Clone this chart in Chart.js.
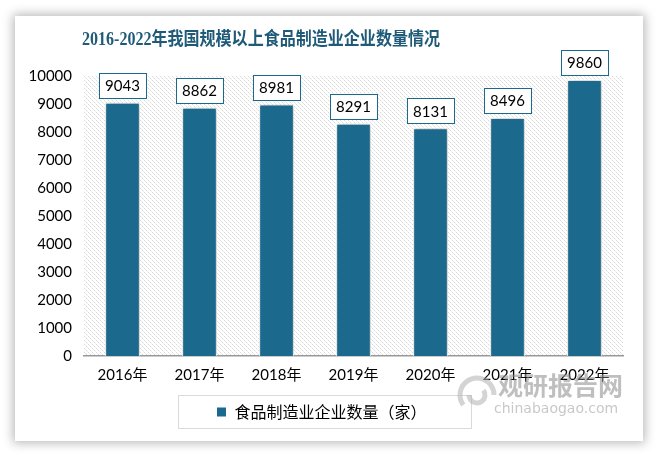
<!DOCTYPE html>
<html>
<head>
<meta charset="utf-8">
<script src="https://cdn.jsdelivr.net/npm/chart.js@4.4.0/dist/chart.umd.min.js"></script>
<style>
  html, body { margin:0; padding:0; background:#ffffff; width:659px; height:456px; overflow:hidden; }
  #card { position:absolute; left:15px; top:16px; width:628px; height:425px; background:#fff;
          box-shadow: 0 0 10px 2px rgba(0,0,0,0.28); }
  #wrap { position:absolute; left:0; top:0; width:659px; height:456px; }
</style>
</head>
<body>
<div id="card"></div>
<div id="wrap"><canvas id="c" width="659" height="456"></canvas></div>
<script>
const titleText = '2016-2022年我国规模以上食品制造业企业数量情况';
const categories = ['2016年', '2017年', '2018年', '2019年', '2020年', '2021年', '2022年'];
const seriesName = '食品制造业企业数量（家）';
const values = [9043, 8862, 8981, 8291, 8131, 8496, 9860];
const yMin = 0, yMax = 10000, yStep = 1000;

const barColor = '#1b6a8e';
const fontLatin = "Lato, 'Noto Sans CJK SC', sans-serif";

function makeHatch(ctx) {
  const n = 4;
  const p = document.createElement('canvas');
  p.width = n; p.height = n;
  const g = p.getContext('2d');
  g.fillStyle = '#ffffff'; g.fillRect(0,0,n,n);
  for (let i = 0; i < n; i++) {
    g.fillStyle = (i % 2 === 0) ? '#dadada' : '#ebebeb';
    g.fillRect(i, i, 1, 1);
  }
  return ctx.createPattern(p, 'repeat');
}

const decor = {
  id: 'decor',
  beforeDraw(chart) {
    const {ctx, chartArea: a} = chart;
    ctx.save();
    ctx.fillStyle = makeHatch(ctx);
    ctx.fillRect(a.left, a.top, a.right - a.left, a.bottom - a.top);
    ctx.restore();
    // title
    ctx.save();
    ctx.font = "bold 18px 'Liberation Serif', 'Noto Sans CJK SC', serif";
    ctx.fillStyle = '#1f5b79';
    ctx.textAlign = 'center';
    ctx.textBaseline = 'middle';
    ctx.fillText(titleText, 261, 40, 358);
    ctx.restore();
  },
  beforeDatasetDraw(chart) {
    const ctx = chart.ctx;
    ctx.save();
    ctx.shadowColor = 'rgba(0,0,0,0.30)';
    ctx.shadowBlur = 6;
    ctx.shadowOffsetX = 1;
    ctx.shadowOffsetY = 0;
  },
  afterDatasetDraw(chart) {
    chart.ctx.restore();
  },
  afterDraw(chart) {
    const ctx = chart.ctx;
    const meta = chart.getDatasetMeta(0);
    ctx.save();
    ctx.font = "15px " + fontLatin;
    ctx.textAlign = 'center';
    ctx.textBaseline = 'middle';
    meta.data.forEach((bar, i) => {
      const txt = String(values[i]);
      const w = ctx.measureText(txt).width + 12;
      const h = 25;
      const x = bar.x - w / 2;
      const y = bar.y - 5 - h;
      ctx.fillStyle = '#ffffff';
      ctx.fillRect(x, y, w, h);
      ctx.strokeStyle = barColor;
      ctx.lineWidth = 1;
      ctx.strokeRect(Math.round(x) + 0.5, Math.round(y) + 0.5, Math.round(w), h);
      ctx.fillStyle = '#000000';
      ctx.fillText(txt, bar.x, y + h / 2 + 1);
    });
    ctx.restore();
    // legend frame
    const lg = chart.legend;
    if (lg && lg.legendHitBoxes && lg.legendHitBoxes.length) {
      const hb = lg.legendHitBoxes[0];
      ctx.save();
      ctx.strokeStyle = '#d9d9d9';
      ctx.lineWidth = 1;
      const x0 = Math.round(hb.left - 38) + 0.5;
      const x1 = Math.round(hb.left + hb.width + 44) + 0.5;
      const y0 = Math.round(hb.top + hb.height / 2 - 17) + 0.5;
      ctx.strokeRect(x0, y0, x1 - x0, 33);
      ctx.restore();
    }
    // watermark
    ctx.save();
    ctx.globalAlpha = 0.55;
    ctx.fillStyle = '#8a8a8a';
    ctx.font = "bold 25px 'Noto Sans CJK SC', sans-serif";
    ctx.textBaseline = 'middle';
    ctx.textAlign = 'left';
    ctx.fillText('观研报告网', 498, 385);
    ctx.font = "14px 'DejaVu Sans', sans-serif";
    ctx.fillStyle = '#9a9a9a';
    ctx.fillText('chinabaogao.com', 494, 409);
    ctx.lineWidth = 5;
    ctx.strokeStyle = '#b0b0b0';
    ctx.beginPath();
    ctx.arc(477, 395, 17, Math.PI * 0.8, Math.PI * 2.0);
    ctx.stroke();
    ctx.beginPath();
    ctx.arc(477, 395, 8, Math.PI * 1.8, Math.PI * 3.0);
    ctx.stroke();
    ctx.restore();
  }
};

new Chart(document.getElementById('c'), {
  type: 'bar',
  data: {
    labels: categories,
    datasets: [{
      label: seriesName,
      data: values,
      backgroundColor: barColor,
      borderColor: '#ffffff',
      borderWidth: 1,
      borderSkipped: 'bottom',
      barPercentage: 0.45,
      categoryPercentage: 1.0
    }]
  },
  options: {
    responsive: false,
    animation: false,
    devicePixelRatio: 1,
    layout: { padding: { left: 20, right: 36, top: 76, bottom: 26 } },
    plugins: {
      title: { display: false },
      tooltip: { enabled: false },
      legend: {
        display: true,
        position: 'bottom',
        labels: {
          boxWidth: 10, boxHeight: 10, padding: 8,
          color: '#000',
          font: { size: 16, family: "'Noto Sans CJK SC', sans-serif" }
        }
      }
    },
    scales: {
      x: {
        grid: { display: false, drawTicks: false },
        border: { display: true, color: '#999999', width: 1.5 },
        ticks: { color: '#000', padding: 10, font: { size: 15, family: fontLatin } },
        afterFit(s) { s.height = 40; }
      },
      y: {
        min: yMin, max: yMax,
        grid: { display: false, drawTicks: false },
        border: { display: false },
        ticks: { stepSize: yStep, color: '#000', padding: 12, font: { size: 15, family: fontLatin },
                 callback: (v) => String(v) },
        afterFit(s) { s.width = 64; }
      }
    }
  },
  plugins: [decor]
});
</script>
</body>
</html>
